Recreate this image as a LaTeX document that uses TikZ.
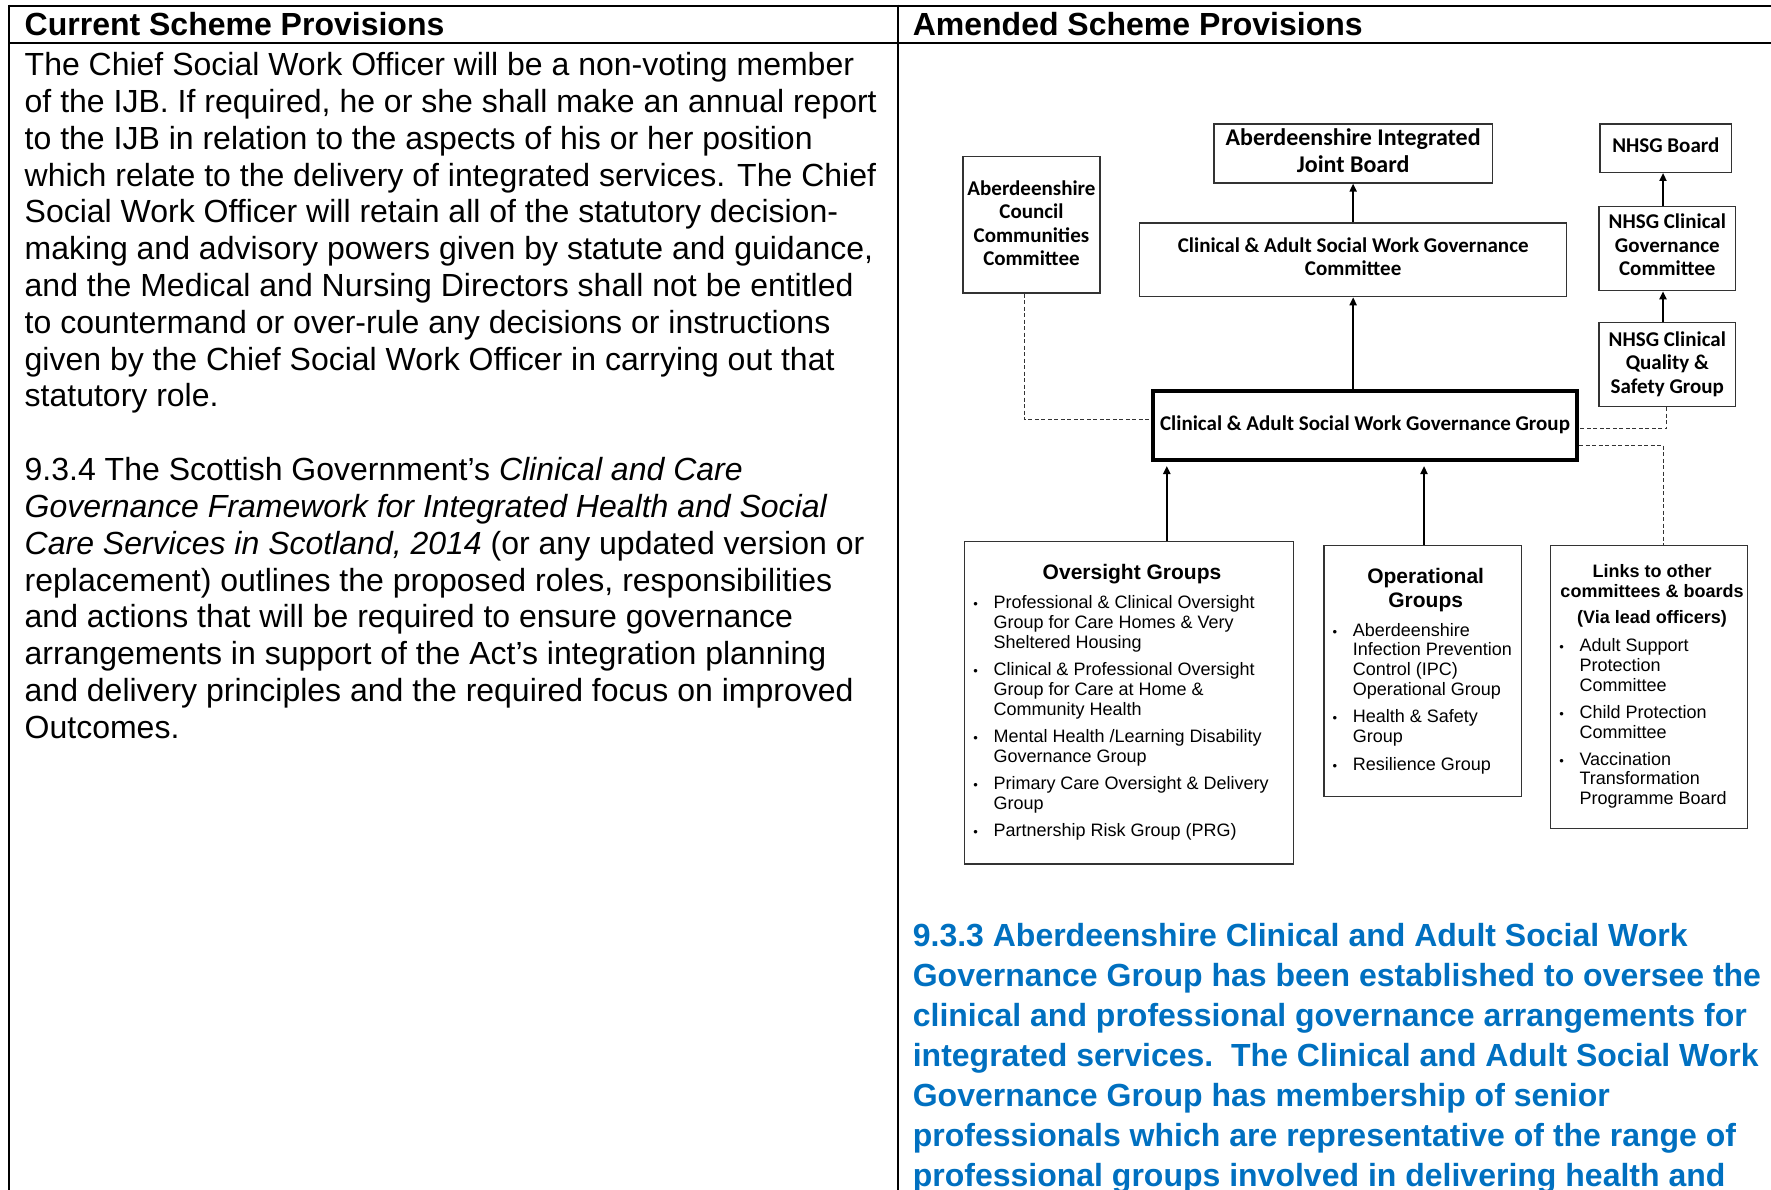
\documentclass[tikz,border=0pt]{standalone}
\usepackage{fontspec}
\setmainfont{Liberation Sans}
\newfontfamily\carl{Carlito}
\usetikzlibrary{arrows.meta}
\definecolor{asblue}{HTML}{0070C0}
\tikzset{
  tbl/.style={line width=2pt, black},
  txt/.style={anchor=base west, inner sep=0pt},
  box/.style={draw=black!80, line width=1.3pt, inner sep=0pt, anchor=north west},
  dgm/.style={font=\carl\bfseries\fontsize{21}{23.3}\selectfont},
  thickbox/.style={draw=black, line width=4pt, inner sep=0pt, anchor=north west},
  arr/.style={draw=black, line width=2pt, -{Triangle[length=8pt,width=7pt]}},
  dsh/.style={draw=black!80, line width=1pt, dash pattern=on 4pt off 2.5pt},
  itm/.style={anchor=base west, inner sep=0pt, font=\fontsize{18}{19.9}\selectfont},
  bul/.style={anchor=base, inner sep=0pt, font=\fontsize{13}{13}\selectfont},
}
\begin{document}
\begin{tikzpicture}[x=1pt,y=-1pt]
\useasboundingbox (0,0) rectangle (1771,1190);
% table
\draw[tbl] (9.3,5.7) -- (1771,5.7);
\draw[tbl] (9.3,43.3) -- (1771,43.3);
\draw[tbl] (9.3,4.7) -- (9.3,1190);
\draw[tbl] (897.8,4.7) -- (897.8,1190);
\node[txt, font=\bfseries\fontsize{32}{36}\selectfont] (h1) at (24.5,36) {Current Scheme Provisions};
\node[txt, font=\bfseries\fontsize{32}{36}\selectfont] (h2) at (912.6,36) {Amended Scheme Provisions};
% left column
\node[txt, font=\fontsize{32}{36.82}\selectfont] (cur) at (24.5,75.6) {\parbox[t]{1000pt}{\raggedright
The Chief Social Work Officer will be a non-voting member\\
of the IJB. If required, he or she shall make an annual report\\
to the IJB in relation to the aspects of his or her position\\
which relate to the delivery of integrated services. The Chief\\
Social Work Officer will retain all of the statutory decision-\\
making and advisory powers given by statute and guidance,\\
and the Medical and Nursing Directors shall not be entitled\\
to countermand or over-rule any decisions or instructions\\
given by the Chief Social Work Officer in carrying out that\\
statutory role.\\[36.82pt]
9.3.4 The Scottish Government’s \textit{Clinical and Care}\\
\textit{Governance Framework for Integrated Health and Social}\\
\textit{Care Services in Scotland, 2014} (or any updated version or\\
replacement) outlines the proposed roles, responsibilities\\
and actions that will be required to ensure governance\\
arrangements in support of the Act’s integration planning\\
and delivery principles and the required focus on improved\\
Outcomes.}};
% blue paragraph
\node[txt, text=asblue, font=\bfseries\fontsize{32}{39.92}\selectfont] (amd) at (912.6,946.8) {\parbox[t]{1000pt}{\raggedright
9.3.3 Aberdeenshire Clinical and Adult Social Work\\
Governance Group has been established to oversee the\\
clinical and professional governance arrangements for\\
integrated services.\ \ The Clinical and Adult Social Work\\
Governance Group has membership of senior\\
professionals which are representative of the range of\\
professional groups involved in delivering health and}};
% diagram boxes
\node[box, dgm, minimum width=137pt, text height=39.3pt, text depth=97.3pt] (cncl) at (962.3,155.7)
  {\parbox[t]{137pt}{\centering Aberdeenshire\\Council\\Communities\\Committee}};
\node[box, font=\carl\bfseries\fontsize{24}{26.7}\selectfont, minimum width=278.4pt, text height=21.5pt, text depth=37.5pt] (ijb) at (1213.3,123.3)
  {\parbox[t]{278.4pt}{\centering Aberdeenshire Integrated\\Joint Board}};
\node[box, dgm, minimum width=427pt, text height=29.4pt, text depth=44.3pt] (cgc) at (1139,222.3)
  {\parbox[t]{427pt}{\centering Clinical \& Adult Social Work Governance\\Committee}};
\node[thickbox, dgm, minimum width=424pt, text height=39.6pt, text depth=29.7pt] (cgg) at (1151,388.7)
  {\parbox[t]{424pt}{\centering Clinical \& Adult Social Work Governance Group}};
\node[box, dgm, minimum width=131.7pt, text height=28.4pt, text depth=20pt] (nb) at (1599.3,123.3)
  {\parbox[t]{131.7pt}{\centering NHSG Board}};
\node[box, dgm, minimum width=136.7pt, text height=22.6pt, text depth=61.7pt] (ncg) at (1598.3,205.7)
  {\parbox[t]{136.7pt}{\centering NHSG Clinical\\Governance\\Committee}};
\node[box, dgm, minimum width=136.7pt, text height=24pt, text depth=59.7pt] (nqs) at (1598.3,322)
  {\parbox[t]{136.7pt}{\centering NHSG Clinical\\Quality \&\\Safety Group}};
% list boxes
\node[box, font=\bfseries\fontsize{21}{23.4}\selectfont, minimum width=328.7pt, text height=38.6pt, text depth=284pt] (ovs) at (964,540.7)
  {\parbox[t]{328.7pt}{\centering\hspace*{6pt}Oversight Groups}};
\node[box, font=\bfseries\fontsize{21}{23.4}\selectfont, minimum width=197.4pt, text height=38.3pt, text depth=212.7pt] (ops) at (1323.3,545)
  {\parbox[t]{197.4pt}{\centering\hspace*{6pt}Operational\\\hspace*{6pt}Groups}};
\node[box, font=\bfseries\fontsize{18}{20}\selectfont, minimum width=196.7pt, text height=31.7pt, text depth=251pt] (lnk) at (1550,545)
  {\parbox[t]{196.7pt}{\centering\hspace*{6pt}Links to other\\\hspace*{6pt}committees \& boards\\[6.6pt]\hspace*{6pt}(Via lead officers)}};
% oversight items
\node[bul] (ob1) at (975.7,608.3) {•};
\node[itm] (oi1) at (993.3,608.3) {\parbox[t]{290pt}{Professional \& Clinical Oversight\\Group for Care Homes \& Very\\Sheltered Housing}};
\node[bul] (ob2) at (975.7,675.7) {•};
\node[itm] (oi2) at (993.3,675.7) {\parbox[t]{290pt}{Clinical \& Professional Oversight\\Group for Care at Home \&\\Community Health}};
\node[bul] (ob3) at (975.7,742.7) {•};
\node[itm] (oi3) at (993.3,742.7) {\parbox[t]{290pt}{Mental Health /Learning Disability\\Governance Group}};
\node[bul] (ob4) at (975.7,789.3) {•};
\node[itm] (oi4) at (993.3,789.3) {\parbox[t]{290pt}{Primary Care Oversight \& Delivery\\Group}};
\node[bul] (ob5) at (975.7,836.5) {•};
\node[itm] (oi5) at (993.3,836.5) {Partnership Risk Group (PRG)};
% operational items
\node[bul] (pb1) at (1335,636) {•};
\node[itm] (pi1) at (1352.7,636) {\parbox[t]{165pt}{Aberdeenshire\\Infection Prevention\\Control (IPC)\\Operational Group}};
\node[bul] (pb2) at (1335,722.7) {•};
\node[itm] (pi2) at (1352.7,722.7) {\parbox[t]{165pt}{Health \& Safety\\Group}};
\node[bul] (pb3) at (1335,770) {•};
\node[itm] (pi3) at (1352.7,770) {Resilience Group};
% links items
\node[bul] (lb1) at (1561.7,651.7) {•};
\node[itm] (li1) at (1579.3,651.7) {\parbox[t]{165pt}{Adult Support\\Protection\\Committee}};
\node[bul] (lb2) at (1561.7,718.3) {•};
\node[itm] (li2) at (1579.3,718.3) {\parbox[t]{165pt}{Child Protection\\Committee}};
\node[bul] (lb3) at (1561.7,765) {•};
\node[itm] (li3) at (1579.3,765) {\parbox[t]{165pt}{Vaccination\\Transformation\\Programme Board}};
% connectors
\coordinate (nx) at (1663,0);
\coordinate (ox) at (1166.8,0);
\coordinate (px) at (1424,0);
\draw[arr] (cgc.north) -- (ijb.south);
\draw[arr] (cgc.south |- cgg.north) -- (cgc.south);
\draw[arr] (nx |- ncg.north) -- (nx |- nb.south);
\draw[arr] (nx |- nqs.north) -- (nx |- ncg.south);
\draw[arr, shorten >=4pt] (ox |- ovs.north) -- (ox |- cgg.south);
\draw[arr, shorten >=4pt] (px |- ops.north) -- (px |- cgg.south);
\coordinate (dl) at (1024,419.3);
\draw[dsh] (dl |- cncl.south) -- (dl) -- (dl -| cgg.west);
\coordinate (dr1) at (1666.7,428.3);
\draw[dsh] (dr1 |- nqs.south) -- (dr1) -- (dr1 -| cgg.east);
\coordinate (dr2) at (1663,445);
\draw[dsh] (dr2 -| cgg.east) -- (dr2) -- (dr2 |- lnk.north);
\end{tikzpicture}
\end{document}
